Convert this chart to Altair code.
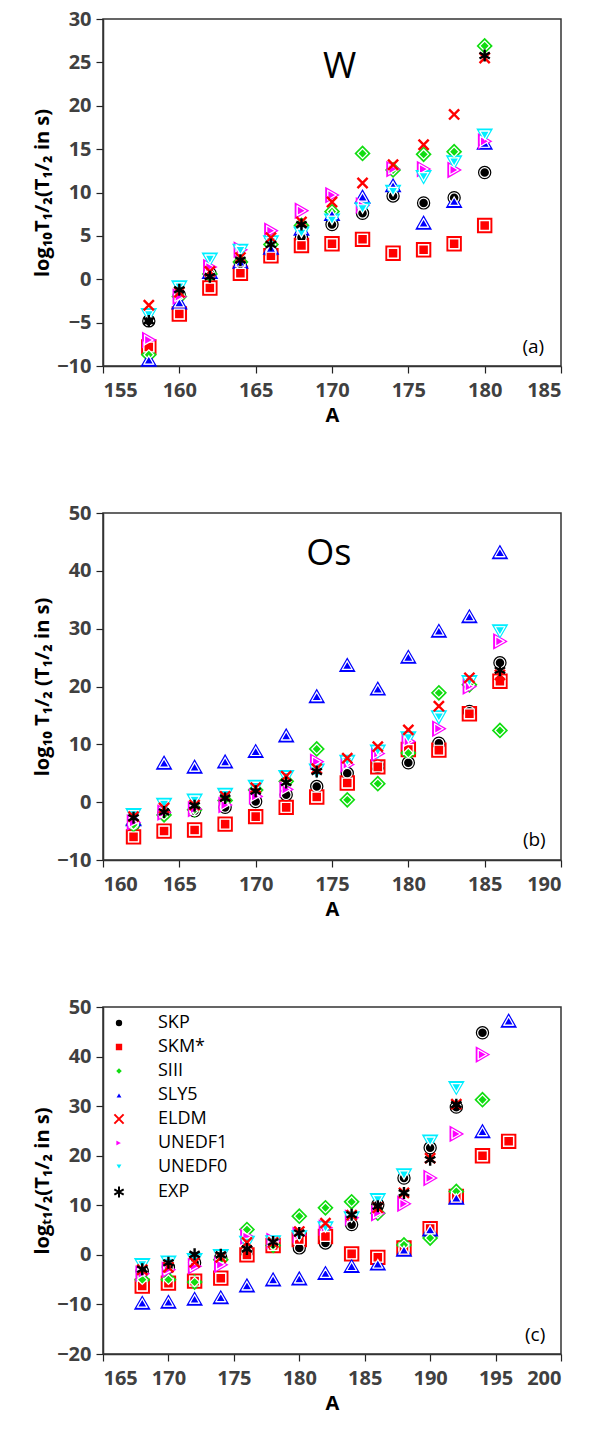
import altair as alt
import pandas as pd

N = None
series = ["SKP", "SKM*", "SIII", "SLY5", "ELDM", "UNEDF1", "UNEDF0", "EXP"]
colors = ["#000000", "#ff0000", "#11dd11", "#0000ff", "#ff0000", "#ff00ff", "#00eeff", "#000000"]
X_PATH = "M-1.1,-1.1L1.1,1.1M-1.1,1.1L1.1,-1.1"
AST_PATH = "M0,-1.3L0,1.3M-1.12,-0.65L1.12,0.65M-1.12,0.65L1.12,-0.65"
shapes = ["circle", "square", "diamond", "triangle-up", X_PATH, "triangle-right", "triangle-down", AST_PATH]
inner_stroke = ["white", "white", "white", "white", "#ff0000", "white", "white", "#000000"]
is_line = [False, False, False, False, True, False, False, True]
outline_size = [130, 180, 180, 180, 0, 180, 180, 0]

# Panel (a) W
A_W = [158, 160, 162, 164, 166, 168, 170, 172, 174, 176, 178, 180]
W_SKP = [-4.8, -1.8, 0.7, 1.8, 3.2, 4.8, 6.3, 7.6, 9.6, 8.8, 9.4, 12.3]
W_SKM = [-7.8, -4.0, -1.0, 0.7, 2.7, 3.9, 4.1, 4.6, 3.0, 3.4, 4.1, 6.2]
W_SIII = [-8.7, -2.0, 0.6, 2.0, 4.0, 6.2, 7.8, 14.5, 12.6, 14.4, 14.7, 26.9]
W_SLY5 = [-9.3, -2.7, 0.8, 2.0, 3.6, 5.8, 7.5, 9.5, 10.8, 6.5, 9.0, 15.7]
W_ELDM = [-3.0, -1.5, 0.9, 2.5, 4.8, 6.6, 8.9, 11.1, 13.2, 15.5, 19.0, 25.5]
W_UNEDF1 = [-7.0, -2.0, 1.4, 3.4, 5.6, 7.9, 9.7, 8.5, 12.7, 12.7, 12.6, 15.9]
W_UNEDF0 = [-4.1, -0.9, 2.3, 3.3, 4.3, 5.3, 6.8, 8.1, 10.1, 11.8, 13.5, 16.6]
W_EXP = [-4.8, -1.2, 0.3, 2.2, 4.0, 6.3, N, N, N, N, N, 25.8]

# Panel (b) Os
A_OS = [162, 164, 166, 168, 170, 172, 174, 176, 178, 180, 182, 184, 186]
OS_SKP = [-3.8, -1.9, -1.5, -0.9, 0.1, 1.3, 2.7, 5.0, 6.2, 6.8, 10.2, 15.7, 24.1]
OS_SKM = [-6.0, -5.0, -4.8, -3.8, -2.5, -0.9, 0.9, 3.3, 6.1, 9.1, 9.0, 15.3, 20.9]
OS_SIII = [-3.9, -2.2, -1.3, 0.3, 2.1, 3.6, 9.2, 0.4, 3.2, 8.5, 18.9, 20.3, 12.4]
OS_SLY5 = [-3.0, 6.8, 6.1, 7.0, 8.8, 11.5, 18.3, 23.7, 19.6, 25.1, 29.6, 32.1, 43.2]
OS_ELDM = [-2.5, -1.0, -0.5, 1.0, 2.5, 4.5, 5.8, 7.6, 9.6, 12.5, 16.6, 21.5, 22.0]
OS_UNEDF1 = [-3.5, -1.8, -1.2, -0.5, 1.0, 2.2, 7.0, 6.5, 8.4, 10.5, 12.7, 20.0, 27.8]
OS_UNEDF0 = [-2.2, -0.4, 0.3, 1.3, 2.7, 4.4, 5.5, 7.0, 8.8, 11.1, 14.7, 20.8, 29.6]
OS_EXP = [-2.7, -1.7, -0.6, 0.7, 1.9, 3.4, 5.3, N, N, N, N, N, 22.8]

# Panel (c)
A_C = [168, 170, 172, 174, 176, 178, 180, 182, 184, 186, 188, 190, 192, 194, 196]
C_SKP = [-3.3, -2.5, -1.6, -0.6, 0.7, 2.4, 1.4, 2.4, 6.1, 10.1, 15.5, 21.6, 29.8, 44.8, N]
C_SKM = [-6.3, -5.7, -5.3, -4.7, 0.0, 1.9, 3.1, 3.7, 0.2, -0.5, 1.4, 5.3, 11.8, 20.0, 22.9]
C_SIII = [-5.0, -5.0, -5.5, -1.0, 5.1, 1.9, 7.8, 9.5, 10.7, 8.4, 2.0, 3.4, 12.8, 31.3, N]
C_SLY5 = [-9.7, -9.5, -8.9, -8.6, -6.2, -5.0, -4.8, -3.7, -2.3, -1.8, 1.0, 5.1, 11.5, 24.9, 47.2]
C_ELDM = [-3.0, -2.5, -1.5, -0.5, 2.5, 2.5, 4.7, 6.4, 8.0, 9.5, 12.5, 19.5, 30.4, N, N]
C_UNEDF1 = [-3.8, -3.0, -2.3, -2.0, 3.7, 2.8, 4.0, 5.5, 7.5, 8.4, 10.3, 15.5, 24.4, 40.4, N]
C_UNEDF0 = [-2.0, -1.5, -1.0, -0.2, 2.5, 2.6, 3.6, 5.4, 7.4, 11.1, 16.1, 22.9, 33.7, N, N]
C_EXP = [-2.9, -1.6, 0.1, 0.0, 1.2, 2.6, 4.4, N, 8.1, 9.8, 12.5, 19.2, 30.3, N, N]

# annotations: text, A, value, align, size
ANN_A = [("W", 170.5, 24.5, "center", 36), ("(a)", 183.9, -7.8, "right", 19)]
ANN_B = [("Os", 174.8, 42.9, "center", 36), ("(b)", 189.0, -6.5, "right", 19)]
ANN_C = [("(c)", 198.8, -16.1, "right", 19)]

FONT = "Open Sans"


def long_df(A, cols):
    rows = []
    for name, vals in zip(series, cols):
        i = series.index(name)
        for a, v in zip(A, vals):
            if v is None:
                continue
            rows.append({"A": a, "v": v, "series": name, "col": colors[i],
                         "shp": shapes[i], "osize": outline_size[i], "line": is_line[i]})
    return pd.DataFrame(rows)


def panel(df, ann, xdom, xticks, ydom, yticks, ytitle, show_legend):
    x = alt.X("A:Q", scale=alt.Scale(domain=xdom, nice=False, zero=False),
              axis=alt.Axis(values=xticks, title="A"))
    y = alt.Y("v:Q", scale=alt.Scale(domain=ydom, nice=False, zero=False),
              axis=alt.Axis(values=yticks, title=ytitle))
    outline = alt.Chart(df[df["osize"] > 0]).mark_point(filled=False, strokeWidth=2, opacity=1).encode(
        x=x, y=y,
        stroke=alt.Stroke("col:N", scale=None),
        shape=alt.Shape("shp:N", scale=None),
        size=alt.Size("osize:Q", scale=None),
    )
    leg = alt.Legend(title=None) if show_legend else None
    sc_fill = alt.Scale(domain=series, range=colors)
    sc_stroke = alt.Scale(domain=series, range=inner_stroke)
    sc_shape = alt.Scale(domain=series, range=shapes)
    if show_legend:
        enc = dict(
            fill=alt.Fill("series:N", scale=sc_fill, title=None, legend=leg),
            stroke=alt.Stroke("series:N", scale=sc_stroke, title=None, legend=leg),
            shape=alt.Shape("series:N", scale=sc_shape, title=None, legend=leg),
        )
    else:
        enc = dict(
            fill=alt.Fill("series:N", scale=sc_fill, legend=None),
            stroke=alt.Stroke("series:N", scale=sc_stroke, legend=None),
            shape=alt.Shape("series:N", scale=sc_shape, legend=None),
        )
    inner = alt.Chart(df[~df["line"]]).mark_point(filled=True, size=95, strokeWidth=1.2, opacity=1).encode(
        x=x, y=y, **enc
    )
    lines = alt.Chart(df[df["line"]]).mark_point(filled=True, size=85, strokeWidth=2.4, opacity=1).encode(
        x=x, y=y, **enc
    )
    ann_df = pd.DataFrame(ann, columns=["t", "A", "v", "al", "fs"])
    texts = []
    for _, r in ann_df.iterrows():
        texts.append(
            alt.Chart(ann_df[ann_df["t"] == r["t"]]).mark_text(
                font=FONT, fontSize=int(r["fs"]), align=r["al"], baseline="middle", color="black"
            ).encode(x=x, y=y, text="t:N")
        )
    return alt.layer(outline, inner, lines, *texts).properties(width=458, height=347)


pa = panel(long_df(A_W, [W_SKP, W_SKM, W_SIII, W_SLY5, W_ELDM, W_UNEDF1, W_UNEDF0, W_EXP]),
           ANN_A, [155, 185], list(range(155, 186, 5)), [-10, 30], list(range(-10, 31, 5)),
           "log₁₀T₁/₂(T₁/₂ in s)", False)
pb = panel(long_df(A_OS, [OS_SKP, OS_SKM, OS_SIII, OS_SLY5, OS_ELDM, OS_UNEDF1, OS_UNEDF0, OS_EXP]),
           ANN_B, [160, 190], list(range(160, 191, 5)), [-10, 50], list(range(-10, 51, 10)),
           "log₁₀ T₁/₂ (T₁/₂ in s)", False)
pc = panel(long_df(A_C, [C_SKP, C_SKM, C_SIII, C_SLY5, C_ELDM, C_UNEDF1, C_UNEDF0, C_EXP]),
           ANN_C, [165, 200], list(range(165, 201, 5)), [-20, 50], list(range(-20, 51, 10)),
           "logₜ₁/₂(T₁/₂ in s)", True)

chart = alt.vconcat(pa, pb, pc, spacing=76).resolve_scale(
    fill="independent", stroke="independent", shape="independent"
).properties(
    padding={"left": 31, "top": 8, "right": 5, "bottom": 5}
).configure_view(
    stroke="#333333", strokeWidth=1.5
).configure_axis(
    labelFont=FONT, labelFontWeight="bold", labelFontSize=20, labelColor="#404040",
    titleFont=FONT, titleFontWeight="bold", titleFontSize=20, titleColor="black",
    domainColor="#333333", domainWidth=1.5, tickColor="#222222", tickSize=7, tickWidth=1.2,
    grid=False, labelPadding=5,
).configure_axisX(
    labelPadding=7, titlePadding=5
).configure_axisY(
    titlePadding=4
).configure_legend(
    orient="top-left", offset=7, padding=0, labelFont=FONT, labelFontSize=18,
    labelColor="black", symbolSize=70, symbolStrokeWidth=2, rowPadding=6, labelOffset=30,
)

chart.save("out.html", embed_options={"renderer": "svg", "actions": False})
